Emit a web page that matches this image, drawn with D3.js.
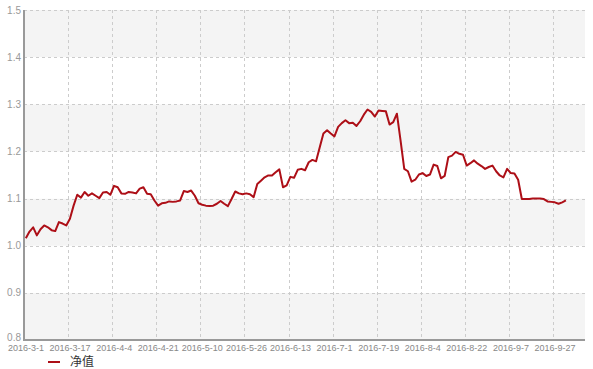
<!DOCTYPE html>
<html><head><meta charset="utf-8">
<script src="https://cdn.jsdelivr.net/npm/d3@7"></script>
<style>
html,body{margin:0;padding:0;background:#fff;}
svg{display:block;}
</style></head>
<body>
<svg id="chart" width="593" height="369"></svg>
<script>
const seriesName = "净值";
const tickLabels = ["2016-3-1","2016-3-17","2016-4-4","2016-4-21","2016-5-10","2016-5-26","2016-6-13","2016-7-1","2016-7-19","2016-8-4","2016-8-22","2016-9-7","2016-9-27"];
const tickEvery = 12;
const yTicks = [0.8,0.9,1.0,1.1,1.2,1.3,1.4,1.5];
const netValues = [
1.016,1.030,1.039,1.022,1.035,1.043,1.039,1.033,1.031,1.050,
1.047,1.043,1.057,1.085,1.108,1.102,1.114,1.106,1.111,1.106,
1.101,1.113,1.114,1.108,1.127,1.124,1.111,1.110,1.114,1.113,
1.111,1.121,1.124,1.110,1.109,1.096,1.085,1.090,1.091,1.094,
1.093,1.094,1.096,1.116,1.114,1.117,1.106,1.090,1.087,1.085,
1.084,1.085,1.089,1.095,1.089,1.084,1.099,1.115,1.111,1.109,
1.111,1.109,1.103,1.131,1.138,1.145,1.149,1.149,1.156,1.162,
1.124,1.128,1.146,1.144,1.161,1.163,1.160,1.177,1.182,1.179,
1.209,1.238,1.245,1.238,1.232,1.252,1.260,1.266,1.260,1.261,
1.254,1.264,1.278,1.289,1.284,1.274,1.287,1.286,1.285,1.257,
1.262,1.280,1.223,1.163,1.158,1.136,1.140,1.151,1.154,1.148,
1.151,1.172,1.169,1.143,1.148,1.188,1.191,1.199,1.195,1.193,
1.170,1.175,1.181,1.174,1.169,1.163,1.167,1.170,1.158,1.149,
1.145,1.163,1.154,1.153,1.140,1.099,1.099,1.099,1.100,1.100,
1.100,1.099,1.094,1.093,1.092,1.089,1.092,1.096
];

const svg = d3.select("#chart");
const pL = 24, pR = 585, pT = 10, pB = 340;
const bandCount = 152.7;
const x = d3.scaleLinear().domain([0, bandCount]).range([pL, pR]);
const y = d3.scaleLinear().domain([0.8, 1.5]).range([pB, pT]);

// alternating bands
const bands = yTicks.slice(0, -1).map((v, i) => ({lo: v, hi: yTicks[i + 1], i}));
svg.append("g").selectAll("rect").data(bands).join("rect")
  .attr("x", pL).attr("width", pR - pL)
  .attr("y", d => y(d.hi)).attr("height", d => y(d.lo) - y(d.hi))
  .attr("fill", d => d.i % 2 === 0 ? "#f4f4f4" : "#ffffff");

// horizontal dashed grid
svg.append("g").selectAll("line").data(yTicks.slice(1)).join("line")
  .attr("x1", pL).attr("x2", pR)
  .attr("y1", d => Math.round(y(d)) + 0.5).attr("y2", d => Math.round(y(d)) + 0.5)
  .attr("stroke", "#cccccc").attr("stroke-dasharray", "3,3");

// vertical dashed grid
const tickIdx = tickLabels.map((d, i) => i * tickEvery);
svg.append("g").selectAll("line").data(tickIdx.slice(1)).join("line")
  .attr("x1", d => Math.round(x(d)) + 0.5).attr("x2", d => Math.round(x(d)) + 0.5)
  .attr("y1", pT).attr("y2", pB)
  .attr("stroke", "#cccccc").attr("stroke-dasharray", "3,3");

// axes lines
svg.append("line").attr("x1", pL).attr("x2", pL).attr("y1", pT).attr("y2", pB + 1)
  .attr("stroke", "#999").attr("stroke-width", 2);
svg.append("line").attr("x1", pL - 1).attr("x2", pR).attr("y1", pB).attr("y2", pB)
  .attr("stroke", "#999").attr("stroke-width", 2);

// y labels
svg.append("g").selectAll("text").data(yTicks).join("text")
  .attr("x", pL - 3).attr("y", d => y(d) - (d === 0.8 ? 3 : 0)).attr("dy", "0.35em")
  .attr("text-anchor", "end")
  .attr("font-family", "Liberation Sans, Arial, sans-serif").attr("font-size", 10)
  .attr("fill", "#999").text(d => d.toFixed(1));

// x labels
svg.append("g").selectAll("text").data(tickLabels).join("text")
  .attr("x", (d, i) => x(tickIdx[i]) + 2).attr("y", pB + 11)
  .attr("text-anchor", "middle")
  .attr("font-family", "Liberation Sans, Arial, sans-serif").attr("font-size", 9)
  .attr("fill", "#888").text(d => d);

// line
const line = d3.line().x((d, i) => x(i + 0.5)).y(d => y(d));
svg.append("path").datum(netValues)
  .attr("d", line).attr("fill", "none")
  .attr("stroke", "#ad0f17").attr("stroke-width", 2).attr("stroke-linejoin", "round");

// legend
svg.append("line").attr("x1", 48).attr("x2", 60).attr("y1", 362).attr("y2", 362)
  .attr("stroke", "#ad0f17").attr("stroke-width", 2);
svg.append("text").attr("x", 70).attr("y", 362).attr("dy", "0.35em")
  .attr("font-family", "Noto Sans CJK SC, sans-serif").attr("font-size", 12)
  .attr("fill", "#333").text(seriesName);
</script>
</body></html>
